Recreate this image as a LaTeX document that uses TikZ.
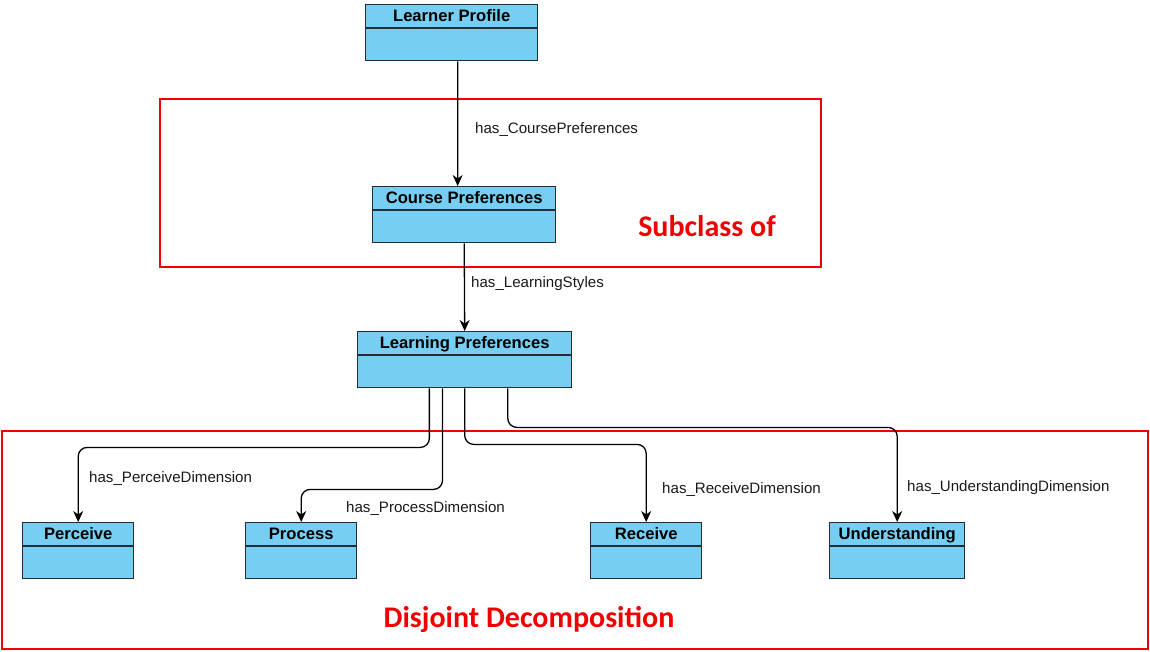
\documentclass[tikz,border=0pt]{standalone}
\usepackage{fontspec}
\setmainfont{Liberation Sans}
\newfontfamily\calfont{Carlito}
\usetikzlibrary{calc,arrows.meta}
\definecolor{boxblue}{RGB}{118,207,243}
\definecolor{boxedge}{RGB}{35,45,50}
\definecolor{redline}{RGB}{240,0,0}
\tikzset{
  umlbox/.style={draw=boxedge, line width=1.4pt, fill=boxblue, anchor=north west, inner sep=0pt},
  umltitle/.style={font=\fontsize{16.6}{19}\selectfont\bfseries, inner sep=0pt, text=black, anchor=base},
  conn/.style={draw=black, line width=1.3pt, rounded corners=9pt, -{Stealth[length=11pt,width=10pt,inset=3.5pt]}},
  lbl/.style={font=\fontsize{15.1}{17}\selectfont, anchor=base west, inner sep=0pt, text=black!90},
  redbox/.style={draw=redline, line width=2pt},
  redlbl/.style={font=\fontsize{30}{34}\calfont\bfseries, text=redline, inner sep=0pt}
}
\newcommand{\umlclass}[6]{% name, x, y, width, height, title
  \node[umlbox, minimum width=#4pt, minimum height=#5pt] (#1) at (#2,#3) {};
  \draw[boxedge, line width=1.4pt] ($(#1.north west)+(0,24)$) -- ($(#1.north east)+(0,24)$);
  \node[umltitle] (#1-t) at ($(#1.north)+(0,17)$) {#6};
}
\begin{document}
\begin{tikzpicture}[x=1pt,y=-1pt]
\useasboundingbox (0,0) rectangle (1150,651);

% red frames
\draw[redbox] (160,99) rectangle (821,267);
\draw[redbox] (2,431) rectangle (1148,649);
\node[redlbl] (sub) at (707,226) {Subclass of};
\node[redlbl] (dis) at (529,619) {Disjoint Decomposition};

% classes
\umlclass{lpr}{365}{4}{172}{56}{Learner Profile}
\umlclass{cp}{372}{186}{183}{56}{Course Preferences}
\umlclass{lp}{357}{331}{214}{56}{Learning Preferences}
\umlclass{pe}{22}{522}{111}{56}{Perceive}
\umlclass{pr}{245}{522}{111}{56}{Process}
\umlclass{re}{590}{522}{111}{56}{Receive}
\umlclass{un}{829}{522}{135}{56}{Understanding}

% connectors
\draw[conn] ($(lpr.south west)!0.535!(lpr.south east)$) -- ($(cp.north west)!0.4645!(cp.north east)$);
\draw[conn] (cp.south) -- (lp.north);
\draw[conn] ($(lp.south west)!0.336!(lp.south east)$) -- ++(0,59) -| (pe.north);
\draw[conn] ($(lp.south west)!0.397!(lp.south east)$) -- ++(0,101) -| (pr.north);
\draw[conn] ($(lp.south west)!0.5!(lp.south east)$) -- ++(0,56) -| (re.north);
\draw[conn] ($(lp.south west)!0.70!(lp.south east)$) -- ++(0,39) -| (un.north);

% labels
\node[lbl] (l1) at (475,133.4) {has\_CoursePreferences};
\node[lbl] (l2) at (471,287.4) {has\_LearningStyles};
\node[lbl] (l3) at (89,482.4) {has\_PerceiveDimension};
\node[lbl] (l4) at (346,512.4) {has\_ProcessDimension};
\node[lbl] (l5) at (662,493.4) {has\_ReceiveDimension};
\node[lbl] (l6) at (907,491.4) {has\_UnderstandingDimension};
\end{tikzpicture}
\end{document}
